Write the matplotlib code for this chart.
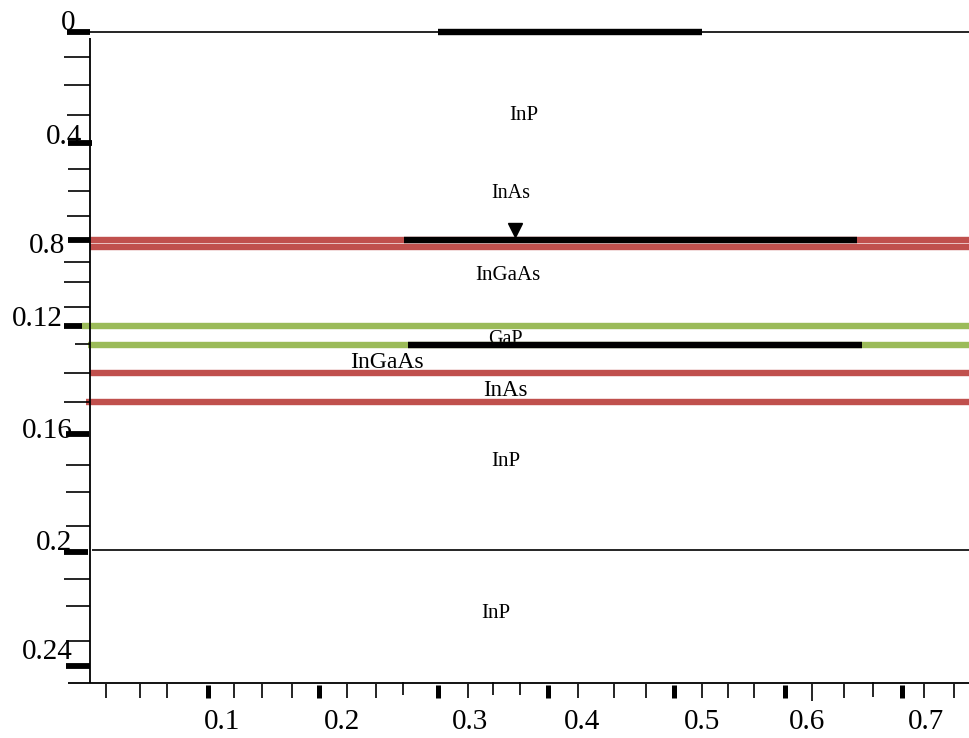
import matplotlib
matplotlib.use("Agg")
import matplotlib.pyplot as plt

# --- Datos del esquema (unidades del dibujo: x a la derecha, y hacia abajo) ---
W, H = 969, 738
SERIF = ["Liberation Serif", "DejaVu Serif"]
RED = "#C0504D"
GREEN = "#9BBB59"

# eje vertical: marcas mayores, menores y etiquetas
y_major = [32, 143, 240, 326, 434, 552, 666]
y_major_x0 = [67, 68, 68, 64, 66, 64, 66]
y_major_x1 = [90, 92, 90, 82, 89, 88, 90]
y_minor = [57, 85, 115, 169, 191, 216, 262, 282, 307, 344,
           373, 402, 465, 492, 526, 579, 606, 641]
y_minor_x0 = [64, 64, 67, 68, 68, 67, 64, 64, 64, 75,
              64, 64, 66, 66, 66, 64, 66, 66]
y_labels = ["0", "0.4", "0.8", "0.12", "0.16", "0.2", "0.24"]
y_label_x = [75, 82, 65, 63, 73, 72, 73]
y_label_y = [23, 137, 246, 319, 431, 543, 652]

# eje horizontal
x_major = [208, 319, 438, 548, 674, 785, 902]
x_minor = [106, 140, 167, 234, 262, 292, 347, 376, 403, 468, 493,
           520, 578, 614, 646, 702, 728, 754, 812, 844, 873, 924, 954]
x_minor_y0 = [684, 684, 684, 684, 684, 684, 684, 684, 682, 684, 682,
              682, 684, 684, 684, 684, 684, 684, 684, 684, 682, 684, 684]
x_minor_y1 = [698, 698, 698, 698, 698, 698, 698, 698, 695, 698, 695,
              695, 698, 698, 698, 698, 698, 698, 701, 698, 697, 698, 698]
x_labels = ["0.1", "0.2", "0.3", "0.4", "0.5", "0.6", "0.7"]
x_label_pos = [222, 342, 470, 582, 702, 807, 926]

# capas: interfaces (y, inicio x, color)
layer_y = [239.5, 247, 326, 345, 373, 402]
layer_x0 = [90, 90, 82, 88, 90, 86]
layer_color = [RED, RED, GREEN, GREEN, RED, RED]

# contactos / puerta (segmentos negros gruesos)
gate_y = [32, 239.5, 345]
gate_x0 = [438, 404, 408]
gate_x1 = [702, 857, 862]

# lineas finas
thin_y = [32, 550]
thin_x0 = [90, 92]

# marcador triangular
marker_x, marker_y = [515], [230]

# nombres de materiales
mat_names = ["InP", "InAs", "InGaAs", "GaP", "InGaAs", "InAs", "InP", "InP"]
mat_x = [524, 511, 508, 505, 387, 505, 506, 496]
mat_y = [116, 193, 275, 339, 363, 391, 461, 613]
mat_size = [15, 14.5, 15, 14.5, 17, 16.5, 15, 15]

fig = plt.figure(figsize=(W / 100, H / 100), dpi=100)
ax = fig.add_axes([0, 0, 1, 1])
ax.set_xlim(0, W)
ax.set_ylim(H, 0)
ax.axis("off")

# textos de capas (debajo de las lineas)
for name, tx, ty, fs in zip(mat_names, mat_x, mat_y, mat_size):
    ax.text(tx, ty, name, ha="center", va="center", fontsize=fs,
            family=SERIF, zorder=1)

# lineas finas
ax.hlines(thin_y, thin_x0, W, color="black", lw=1.2, zorder=2)

# interfaces coloreadas
for yy, x0, c in zip(layer_y, layer_x0, layer_color):
    ax.hlines(yy, x0, W, color=c, lw=4.6, zorder=3)

# segmentos negros
ax.hlines(gate_y, gate_x0, gate_x1, color="black", lw=4.6, zorder=4)
ax.plot(marker_x, marker_y, marker="v", color="black", markersize=10,
        linestyle="none", zorder=5)

# ejes
ax.vlines(90, 38, 683, color="black", lw=1.3, zorder=4)
ax.hlines(683, 68, W, color="black", lw=1.3, zorder=4)

ax.hlines(y_major, y_major_x0, y_major_x1, color="black", lw=4.2, zorder=5)
ax.hlines(y_minor, y_minor_x0, 90, color="black", lw=1.2, zorder=4)
for lab, lx, ly in zip(y_labels, y_label_x, y_label_y):
    ax.text(lx, ly, lab, ha="right", va="center", fontsize=21,
            family=SERIF, zorder=6)

ax.vlines(x_major, 685, 698, color="black", lw=3.6, zorder=5)
ax.vlines(x_minor, x_minor_y0, x_minor_y1, color="black", lw=1.2, zorder=4)
for lab, lx in zip(x_labels, x_label_pos):
    ax.text(lx, 722, lab, ha="center", va="center", fontsize=21,
            family=SERIF, zorder=6)

fig.savefig("out.png", dpi=100)
